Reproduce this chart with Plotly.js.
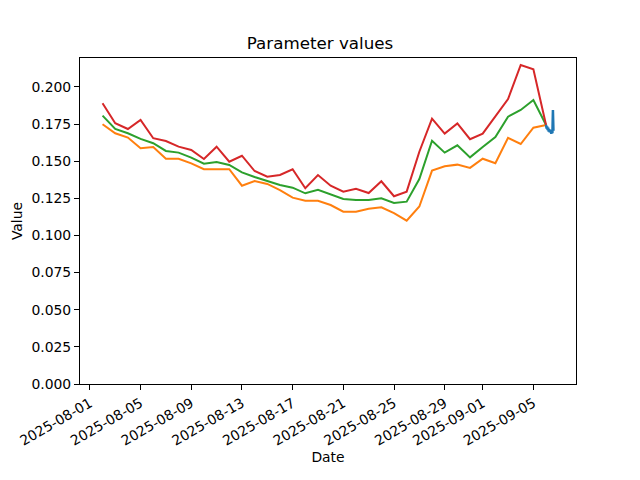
<!DOCTYPE html>
<html>
<head>
<meta charset="utf-8">
<script src="https://cdn.plot.ly/plotly-3.0.1.min.js"></script>
<style>html,body{margin:0;padding:0;background:#fff;}#chart{width:640px;height:480px;}</style>
</head>
<body>
<div id="chart"></div>
<script>
// Daily dates 2025-08-02 .. 2025-09-06
const dailyDates = [
  "2025-08-02","2025-08-03","2025-08-04","2025-08-05","2025-08-06","2025-08-07",
  "2025-08-08","2025-08-09","2025-08-10","2025-08-11","2025-08-12","2025-08-13",
  "2025-08-14","2025-08-15","2025-08-16","2025-08-17","2025-08-18","2025-08-19",
  "2025-08-20","2025-08-21","2025-08-22","2025-08-23","2025-08-24","2025-08-25",
  "2025-08-26","2025-08-27","2025-08-28","2025-08-29","2025-08-30","2025-08-31",
  "2025-09-01","2025-09-02","2025-09-03","2025-09-04","2025-09-05","2025-09-06"
];
const lowerValues = [
  0.1749,0.1688,0.1659,0.1587,0.1596,0.1517,0.1517,0.1486,0.1446,0.1446,0.1446,0.1335,
  0.1367,0.1347,0.1306,0.1255,0.1234,0.1234,0.1205,0.1160,0.1160,0.1180,0.1190,0.1150,
  0.1100,0.1195,0.1437,0.1466,0.1477,0.1455,0.1517,0.1486,0.1657,0.1616,0.1726,0.1744
];
const midValues = [
  0.1807,0.1717,0.1688,0.1650,0.1621,0.1569,0.1558,0.1524,0.1483,0.1495,0.1475,0.1425,
  0.1394,0.1365,0.1340,0.1322,0.1284,0.1308,0.1279,0.1246,0.1239,0.1239,0.1250,0.1219,
  0.1228,0.1380,0.1638,0.1558,0.1607,0.1526,0.1596,0.1663,0.1800,0.1845,0.1912,0.1744
];
const upperValues = [
  0.1890,0.1756,0.1717,0.1778,0.1655,0.1636,0.1598,0.1576,0.1515,0.1598,0.1497,0.1537,
  0.1434,0.1396,0.1407,0.1446,0.1318,0.1407,0.1335,0.1295,0.1315,0.1286,0.1365,0.1264,
  0.1295,0.1564,0.1787,0.1686,0.1755,0.1648,0.1686,0.1805,0.1919,0.2148,0.2119,0.1744
];
// Intraday series on 2025-09-06
const intradayTimes = [
  "2025-09-06 00:00","2025-09-06 01:00","2025-09-06 02:00","2025-09-06 03:00",
  "2025-09-06 04:00","2025-09-06 05:00","2025-09-06 06:00","2025-09-06 07:00",
  "2025-09-06 08:00","2025-09-06 09:00","2025-09-06 10:00","2025-09-06 11:00",
  "2025-09-06 12:00","2025-09-06 13:00","2025-09-06 13:30","2025-09-06 14:00"
];
const intradayValues = [
  0.1745,0.1720,0.1735,0.1710,0.1725,0.1700,0.1715,0.1695,
  0.1710,0.1690,0.1685,0.1705,0.1688,0.1845,0.1710,0.1705
];
const xTickVals = ["2025-08-01","2025-08-05","2025-08-09","2025-08-13","2025-08-17",
  "2025-08-21","2025-08-25","2025-08-29","2025-09-01","2025-09-05"];
const yTickVals = [0,0.025,0.05,0.075,0.1,0.125,0.15,0.175,0.2];

const font = {family: "DejaVu Sans, sans-serif", color: "#000"};
const traces = [
  {x: dailyDates, y: lowerValues, type: "scatter", mode: "lines", line: {color: "#ff7f0e", width: 2}, name: "lower"},
  {x: dailyDates, y: midValues, type: "scatter", mode: "lines", line: {color: "#2ca02c", width: 2}, name: "mid"},
  {x: dailyDates, y: upperValues, type: "scatter", mode: "lines", line: {color: "#d62728", width: 2}, name: "upper"},
  {x: intradayTimes, y: intradayValues, type: "scatter", mode: "lines", line: {color: "#1f77b4", width: 2.5}, name: "intraday"}
];
const layout = {
  width: 640, height: 480,
  margin: {l: 80, r: 64, t: 58, b: 96, pad: 0},
  paper_bgcolor: "#fff", plot_bgcolor: "#fff",
  showlegend: false,
  font: Object.assign({size: 14}, font),
  title: {text: "Parameter values", font: Object.assign({size: 16.7}, font), x: 0.5, xanchor: "center", y: 1 - 43/480, yanchor: "middle"},
  xaxis: {
    type: "date",
    range: ["2025-07-31 05:18", "2025-09-08 08:42"],
    tickvals: xTickVals, ticktext: xTickVals,
    tickangle: -30,
    ticks: "outside", ticklen: 5, tickwidth: 1, tickcolor: "#000",
    showline: true, linecolor: "#000", linewidth: 1, mirror: true,
    showgrid: false, zeroline: false,
    tickfont: Object.assign({size: 13.9}, font),
    title: {text: "Date", font: Object.assign({size: 13.9}, font), standoff: 4}
  },
  yaxis: {
    range: [0, 0.2195],
    tickvals: yTickVals, tickformat: ".3f",
    ticks: "outside", ticklen: 5, tickwidth: 1, tickcolor: "#000",
    showline: true, linecolor: "#000", linewidth: 1, mirror: true,
    showgrid: false, zeroline: false,
    tickfont: Object.assign({size: 13.9}, font),
    title: {text: "Value", font: Object.assign({size: 13.9}, font), standoff: 5}
  }
};
Plotly.newPlot("chart", traces, layout, {displayModeBar: false, staticPlot: true});
</script>
</body>
</html>
